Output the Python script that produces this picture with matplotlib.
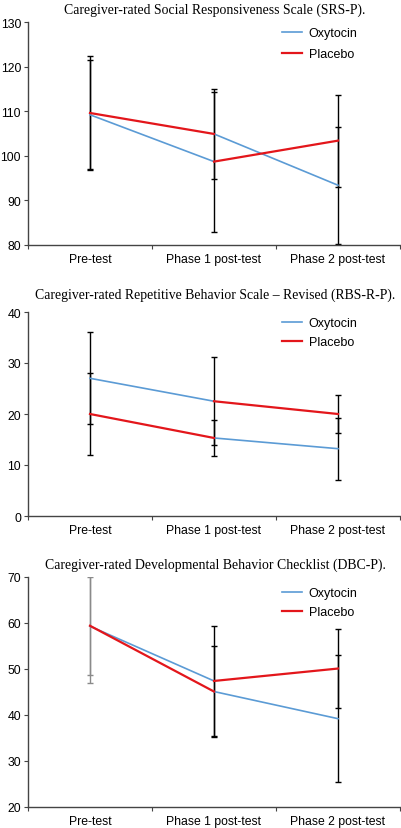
import numpy as np
import matplotlib
matplotlib.use("Agg")
import matplotlib.pyplot as plt

# --- data ---
phases = ["Pre-test", "Phase 1 post-test", "Phase 2 post-test"]

# lines are drawn as two segments each (pre -> phase 1, phase 1 -> phase 2)
srs_title = "Caregiver-rated Social Responsiveness Scale (SRS-P)."
srs_oxy_seg1 = [109.2, 98.7]
srs_oxy_seg2 = [104.9, 93.4]
srs_pla_seg1 = [109.6, 104.9]
srs_pla_seg2 = [98.7, 103.4]
srs_err_x = [0, 0, 1, 1, 2, 2]
srs_err_mean = [109.2, 109.6, 104.9, 98.7, 93.4, 103.4]
srs_err_sd = [12.2, 12.8, 10.1, 15.7, 13.1, 10.3]
srs_ylim = (80, 130)
srs_yticks = [80, 90, 100, 110, 120, 130]

rbs_title = "Caregiver-rated Repetitive Behavior Scale \u2013 Revised (RBS-R-P)."
rbs_oxy_seg1 = [27.0, 22.5]
rbs_oxy_seg2 = [15.3, 13.2]
rbs_pla_seg1 = [20.0, 15.3]
rbs_pla_seg2 = [22.5, 20.0]
rbs_err_x = [0, 0, 1, 1, 2, 2]
rbs_err_mean = [27.0, 20.0, 22.5, 15.3, 20.0, 13.2]
rbs_err_sd = [9.0, 8.1, 8.6, 3.5, 3.8, 6.1]
rbs_ylim = (0, 40)
rbs_yticks = [0, 10, 20, 30, 40]

dbc_title = "Caregiver-rated Developmental Behavior Checklist (DBC-P)."
dbc_oxy_seg1 = [59.3, 47.4]
dbc_oxy_seg2 = [45.1, 39.2]
dbc_pla_seg1 = [59.4, 45.1]
dbc_pla_seg2 = [47.4, 50.1]
dbc_err_x = [0, 0, 1, 1, 2, 2]
dbc_err_mean = [59.3, 59.4, 47.4, 45.1, 50.1, 39.2]
dbc_err_sd = [10.7, 12.4, 11.9, 9.8, 8.5, 13.8]
dbc_ylim = (20, 70)
dbc_yticks = [20, 30, 40, 50, 60, 70]

BLUE = "#5b9bd5"
RED = "#e3161b"
AXC = "#444444"

plt.rcParams["font.family"] = ["Liberation Sans", "DejaVu Sans"]

W, H = 401, 829
fig = plt.figure(figsize=(W / 100, H / 100), dpi=100)


def panel(top, bottom, title, title_y, oxy1, oxy2, pla1, pla2,
          ex, em, es, ylim, yticks, leg_y, leg_sp, gray_pre=False):
    ax = fig.add_axes([28 / W, 1 - bottom / H, 372 / W, (bottom - top) / H])
    x = np.arange(len(phases))
    ax.plot(x[:2], oxy1, color=BLUE, lw=1.2, label="Oxytocin", zorder=3)
    ax.plot(x[1:], oxy2, color=BLUE, lw=1.2, zorder=3)
    ax.plot(x[:2], pla1, color=RED, lw=1.6, label="Placebo", zorder=3)
    ax.plot(x[1:], pla2, color=RED, lw=1.6, zorder=3)
    ex = np.array(ex)
    em = np.array(em)
    es = np.array(es)
    for i in range(len(ex)):
        c = "#8a8a8a" if (gray_pre and ex[i] == 0) else "black"
        ax.errorbar(ex[i], em[i], yerr=es[i], fmt="none", ecolor=c,
                    elinewidth=1.0, capsize=2.3, capthick=1.0, zorder=2)
    ax.set_xlim(-0.5, 2.5)
    ax.set_ylim(*ylim)
    ax.set_yticks(yticks)
    ax.set_xticks([-0.5, 0.5, 1.5, 2.5])
    ax.set_xticklabels([])
    ax.set_xticks(x, minor=True)
    ax.set_xticklabels(phases, minor=True)
    ax.tick_params(axis="x", which="minor", length=0, pad=6, labelsize=8.8)
    ax.tick_params(axis="x", which="major", length=3, color=AXC)
    ax.tick_params(axis="y", length=3, color=AXC, labelsize=8.8, pad=2)
    for s in ["top", "right"]:
        ax.spines[s].set_visible(False)
    for s in ["left", "bottom"]:
        ax.spines[s].set_color(AXC)
        ax.spines[s].set_linewidth(1.0)
    ax.legend(loc="upper left", bbox_to_anchor=((282 - 28) / 372, 1 - (leg_y - top) / (bottom - top)),
              frameon=False, fontsize=9, handlelength=1.6, handletextpad=0.55,
              labelspacing=leg_sp, borderaxespad=0, borderpad=0)
    fig.text(215 / W, 1 - title_y / H, title, ha="center", va="center",
             family="Liberation Serif", fontsize=9.9)
    return ax


panel(23, 246, srs_title, 10, srs_oxy_seg1, srs_oxy_seg2, srs_pla_seg1, srs_pla_seg2,
      srs_err_x, srs_err_mean, srs_err_sd, srs_ylim, srs_yticks, 28, 0.75)
panel(313, 517, rbs_title, 295, rbs_oxy_seg1, rbs_oxy_seg2, rbs_pla_seg1, rbs_pla_seg2,
      rbs_err_x, rbs_err_mean, rbs_err_sd, rbs_ylim, rbs_yticks, 318, 0.55)
panel(578, 808, dbc_title, 565, dbc_oxy_seg1, dbc_oxy_seg2, dbc_pla_seg1, dbc_pla_seg2,
      dbc_err_x, dbc_err_mean, dbc_err_sd, dbc_ylim, dbc_yticks, 588, 0.55, gray_pre=True)

fig.savefig("out.png", dpi=100)
